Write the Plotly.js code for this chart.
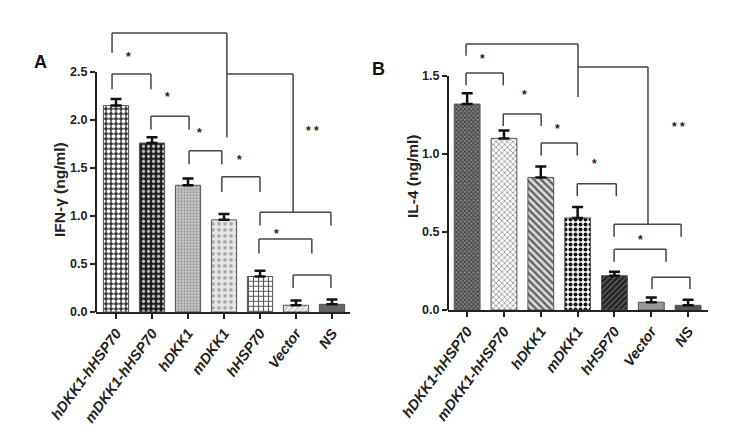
<!DOCTYPE html>
<html>
<head>
<meta charset="utf-8">
<script src="https://cdn.plot.ly/plotly-3.0.1.min.js"></script>
<style>html,body{margin:0;padding:0;background:#fff;}#chart{width:747px;height:437px;}</style>
</head>
<body>
<div id="chart"></div>
<script>
// ---------- data ----------
const categories = ['hDKK1-hHSP70', 'mDKK1-hHSP70', 'hDKK1', 'mDKK1', 'hHSP70', 'Vector', 'NS'];
const ifnValues = [2.15, 1.76, 1.32, 0.96, 0.37, 0.07, 0.08];
const ifnErrors = [0.07, 0.06, 0.07, 0.06, 0.06, 0.05, 0.05];
const il4Values = [1.32, 1.10, 0.85, 0.59, 0.22, 0.05, 0.03];
const il4Errors = [0.07, 0.05, 0.07, 0.07, 0.025, 0.03, 0.035];
const ifnTicks = [0, 0.5, 1.0, 1.5, 2.0, 2.5];
const il4Ticks = [0, 0.5, 1.0, 1.5];
const ifnTitle = 'IFN-\u03b3 (ng/ml)';
const il4Title = 'IL-4 (ng/ml)';

// significance brackets: [x0, x1, yTop, leftLegBottom, rightLegBottom] (category index / data units)
const ifnBrackets = [
  [-0.11, 3.08, 2.906, 2.70, 1.82],
  [3.08, 4.92, 2.479, 2.479, 1.04],
  [-0.11, 0.97, 2.48, 2.32, 2.32],
  [0.97, 2.03, 2.04, 1.90, 1.90],
  [2.03, 2.94, 1.68, 1.54, 1.54],
  [2.94, 4.00, 1.41, 1.25, 1.25],
  [4.00, 5.97, 1.04, 0.90, 0.90],
  [3.97, 5.44, 0.76, 0.61, 0.61],
  [4.92, 5.97, 0.385, 0.25, 0.25]
];
const il4Brackets = [
  [-0.03, 3.01, 1.705, 1.63, 1.365],
  [3.01, 4.91, 1.558, 1.558, 0.55],
  [-0.03, 0.98, 1.52, 1.44, 1.44],
  [0.98, 2.01, 1.256, 1.18, 1.18],
  [2.01, 2.99, 1.07, 0.99, 0.99],
  [2.99, 4.05, 0.81, 0.73, 0.73],
  [3.99, 5.81, 0.55, 0.47, 0.47],
  [3.99, 5.40, 0.39, 0.31, 0.31],
  [5.02, 6.05, 0.21, 0.135, 0.135]
];
// significance marks: [x, y, text]
const ifnMarks = [[0.36, 2.69, '*'], [1.42, 2.27, '*'], [2.33, 1.90, '*'], [3.42, 1.61, '*'], [4.47, 0.84, '*'], [5.47, 1.92, '* *']];
const il4Marks = [[0.41, 1.63, '*'], [1.55, 1.40, '*'], [2.44, 1.18, '*'], [3.45, 0.955, '*'], [4.72, 0.47, '*'], [5.73, 1.19, '* *']];

// ---------- styles ----------
const W = 747, H = 437;
const dom = {
  ax: [96 / W, 350 / W], ay: [1 - 312 / H, 1 - 28.8 / H],
  bx: [448 / W, 708 / W], by: [1 - 310 / H, 1 - 37 / H]
};
const axisColor = '#222';
const tickFont = {family: '"Liberation Sans Narrow", "Liberation Sans", Arial, sans-serif', size: 12.5, color: '#222', weight: 'bold'};
const catFont = {family: '"Liberation Sans", Arial, sans-serif', size: 14.5, color: '#222', weight: 'bold', style: 'italic'};

const ifnPattern = {
  shape: ['.', '.', '.', '.', '+', '/', ''],
  fgcolor: ['#ffffff', '#bdbdbd', '#8a8a8a', '#a6a6a6', '#5a5a5a', '#bdbdbd', '#666666'],
  bgcolor: ['#383838', '#1c1c1c', '#c6c6c6', '#e6e6e6', '#ffffff', '#eeeeee', '#666666'],
  size: [5, 5, 3, 6, 5, 4, 5],
  solidity: [0.5, 0.35, 0.3, 0.3, 0.4, 0.3, 0.3]
};
const il4Pattern = {
  shape: ['x', 'x', '\\', '.', '/', '', ''],
  fgcolor: ['#3a3a3a', '#9a9a9a', '#5e5e5e', '#111111', '#6a6a6a', '#999999', '#555555'],
  bgcolor: ['#8a8a8a', '#ffffff', '#dadada', '#ffffff', '#222222', '#999999', '#555555'],
  size: [3, 4, 5, 5, 4, 5, 5],
  solidity: [0.5, 0.4, 0.45, 0.5, 0.3, 0.3, 0.3]
};

// background fill trace + pattern trace overlaid on it (same values)
function barTraces(vals, errs, pattern, xa, ya) {
  const base = {
    type: 'bar', x: categories, y: vals, xaxis: xa, yaxis: ya, width: 0.7,
    marker: {color: pattern.bgcolor, line: {width: 0}}, hoverinfo: 'skip', showlegend: false
  };
  const top = {
    type: 'bar', x: categories, y: vals, xaxis: xa, yaxis: ya, width: 0.7,
    marker: {color: pattern.fgcolor, pattern: {fillmode: 'replace', shape: pattern.shape, bgcolor: 'rgba(0,0,0,0)', size: pattern.size, solidity: pattern.solidity},
      line: {color: '#555', width: 1}},
    error_y: {type: 'data', array: errs, arrayminus: errs.map(() => 0), symmetric: false, color: '#111', thickness: 2.5, width: 5.5},
    hoverinfo: 'x+y', showlegend: false
  };
  return [base, top];
}

function bracketShapes(list, xr, yr) {
  const out = [];
  const ln = {color: '#444', width: 1.5};
  list.forEach(b => {
    out.push({type: 'line', xref: xr, yref: yr, x0: b[0], x1: b[1], y0: b[2], y1: b[2], line: ln});
    if (b[3] !== b[2]) out.push({type: 'line', xref: xr, yref: yr, x0: b[0], x1: b[0], y0: b[2], y1: b[3], line: ln});
    if (b[4] !== b[2]) out.push({type: 'line', xref: xr, yref: yr, x0: b[1], x1: b[1], y0: b[2], y1: b[4], line: ln});
  });
  return out;
}
function markAnns(list, xr, yr) {
  return list.map(m => ({xref: xr, yref: yr, x: m[0], y: m[1], text: m[2], showarrow: false, xanchor: 'center', yanchor: 'middle',
    font: {family: '"Liberation Sans", Arial, sans-serif', size: 12, color: '#222', weight: 'bold'}, yshift: -3}));
}

const shapes = [].concat(
  bracketShapes(ifnBrackets, 'x', 'y'),
  bracketShapes(il4Brackets, 'x2', 'y2'),
  [
    {type: 'line', xref: 'paper', yref: 'y', x0: dom.ax[0], x1: dom.ax[0], y0: 0, y1: ifnTicks[ifnTicks.length - 1], line: {color: axisColor, width: 2}},
    {type: 'line', xref: 'paper', yref: 'y2', x0: dom.bx[0], x1: dom.bx[0], y0: 0, y1: il4Ticks[il4Ticks.length - 1], line: {color: axisColor, width: 2}}
  ]
);

const titleFont = {family: '"Liberation Sans", Arial, sans-serif', size: 15.5, color: '#222', weight: 'bold'};
const letterFont = {family: '"Liberation Sans", Arial, sans-serif', size: 18, color: '#111', weight: 'bold'};
function paperAnn(px, py, text, font, angle) {
  return {xref: 'paper', yref: 'paper', x: px / W, y: 1 - py / H, text: text, textangle: angle || 0, showarrow: false,
    xanchor: 'center', yanchor: 'middle', font: font};
}
const annotations = [].concat(
  markAnns(ifnMarks, 'x', 'y'),
  markAnns(il4Marks, 'x2', 'y2'),
  [
    paperAnn(60, 190, ifnTitle, titleFont, -90),
    paperAnn(412, 176, il4Title, titleFont, -90),
    paperAnn(40, 62, 'A', letterFont),
    paperAnn(378, 69, 'B', letterFont)
  ]
);

function xAxis(domain, range, anchor) {
  return {domain: domain, range: range, anchor: anchor, type: 'category', showline: true, linewidth: 2, linecolor: axisColor,
    ticks: 'outside', ticklen: 5, tickwidth: 2, tickcolor: axisColor, tickangle: -54, tickfont: catFont,
    showgrid: false, zeroline: false, fixedrange: true};
}
function yAxis(domain, range, ticks, anchor) {
  return {domain: domain, range: range, anchor: anchor, tickvals: ticks, ticktext: ticks.map(t => t.toFixed(1)),
    showline: false, ticks: 'outside', ticklen: 5, tickwidth: 2, tickcolor: axisColor, tickfont: tickFont,
    showgrid: false, zeroline: false, fixedrange: true};
}

const layout = {
  width: W, height: H, margin: {l: 0, r: 0, t: 0, b: 0}, paper_bgcolor: '#fff', plot_bgcolor: 'rgba(0,0,0,0)',
  showlegend: false, barmode: 'overlay',
  xaxis: xAxis(dom.ax, [-0.556, 6.5], 'y'),
  yaxis: yAxis(dom.ay, [0, 2.95], ifnTicks, 'x'),
  xaxis2: xAxis(dom.bx, [-0.52, 6.54], 'y2'),
  yaxis2: yAxis(dom.by, [0, 1.75], il4Ticks, 'x2'),
  shapes: shapes, annotations: annotations
};

Plotly.newPlot('chart', [].concat(
  barTraces(ifnValues, ifnErrors, ifnPattern, 'x', 'y'),
  barTraces(il4Values, il4Errors, il4Pattern, 'x2', 'y2')
), layout, {staticPlot: true, displayModeBar: false});
</script>
</body>
</html>
